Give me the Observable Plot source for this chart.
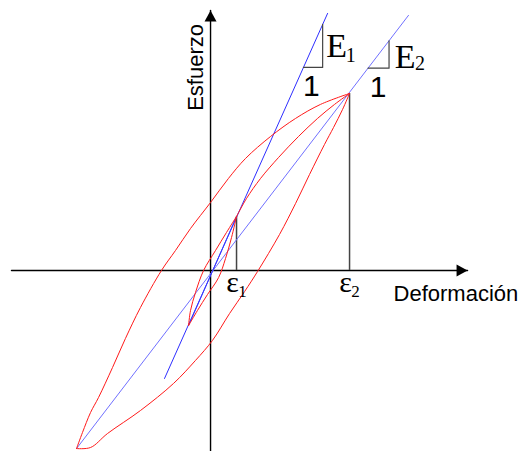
<!DOCTYPE html>
<html>
<head>
<meta charset="utf-8">
<script src="https://cdn.jsdelivr.net/npm/d3@7"></script>
<script src="https://cdn.jsdelivr.net/npm/@observablehq/plot@0.6"></script>
<style>
  html, body { margin: 0; padding: 0; background: #fff; }
</style>
</head>
<body>
<div id="chart"></div>
<script>
// Hysteresis loops: strain (x) vs stress (y), normalised to the large cycle peak.
const peak1 = [0.187, 0.305];      // ε1 peak of the small cycle
const trough1 = [-0.158, -0.311];  // reversal of the small cycle
const peak2 = [1.0, 1.0];          // ε2 peak of the large cycle
const trough2 = [-0.964, -1.006];  // reversal of the large cycle

// Large loop, unloading branch (peak2 -> trough2)
const outerUnload = [
  [1.000, 1.000], [0.791, 0.938], [0.612, 0.859], [0.432, 0.757], [0.252, 0.633],
  [0.129, 0.520], [0.000, 0.384], [-0.144, 0.237], [-0.252, 0.113], [-0.353, 0.000],
  [-0.504, -0.209], [-0.612, -0.384], [-0.705, -0.548], [-0.806, -0.718],
  [-0.863, -0.802], [-0.921, -0.915], [-0.964, -1.006]
];
// Large loop, reloading branch (trough2 -> peak2)
const outerReload = [
  [-0.964, -1.006], [-0.863, -1.000], [-0.741, -0.921], [-0.504, -0.791], [-0.266, -0.638],
  [-0.108, -0.508], [0.014, -0.395], [0.137, -0.243], [0.245, -0.119], [0.338, -0.006],
  [0.496, 0.203], [0.612, 0.379], [0.712, 0.542], [0.820, 0.712], [0.885, 0.808],
  [0.950, 0.910], [1.000, 1.000]
];
// Loading path from the small cycle up to the large peak
const loadPath = [
  [0.187, 0.305], [0.259, 0.407], [0.360, 0.520], [0.489, 0.638], [0.633, 0.757],
  [0.770, 0.859], [0.892, 0.938], [1.000, 1.000]
];
// Small loop branches
const innerUnload = [
  [0.187, 0.305], [0.115, 0.215], [0.036, 0.113], [-0.050, 0.000],
  [-0.108, -0.124], [-0.144, -0.226], [-0.158, -0.311]
];
const innerReload = [
  [-0.158, -0.311], [-0.094, -0.226], [-0.022, -0.136], [0.058, -0.040],
  [0.108, 0.068], [0.151, 0.186], [0.187, 0.305]
];

// Secant moduli lines
const lineE1 = [[-0.331, -0.610], [0.842, 1.452]];
const lineE2 = [[-0.964, -1.006], [1.424, 1.441]];
const secant1 = [trough1, peak1];

// Slope triangles: level of the horizontal leg and its run
const triE1 = { line: lineE1, y: 1.147, run: 0.138 };
const triE2 = { line: lineE2, y: 1.143, run: 0.151 };

// Axis extents
const xAxisExtent = [-1.432, 1.849];
const yAxisExtent = [-1.03, 1.469];

const strainTicks = [
  { x: peak1[0], name: "ε", sub: "1" },
  { x: peak2[0], name: "ε", sub: "2" }
];

function slopeTriangle(t) {
  const [[x0, y0], [x1, y1]] = t.line;
  const m = (y1 - y0) / (x1 - x0);
  const xa = x0 + (t.y - y0) / m;       // where the leg meets the line
  const xb = xa + t.run;                // right corner
  const yb = t.y + m * t.run;           // top of the vertical leg
  return [[xa, t.y], [xb, t.y], [xb, yb]];
}
const tri1 = slopeTriangle(triE1);
const tri2 = slopeTriangle(triE2);

// Filled arrowhead, tip at the symbol origin, pointing right
const arrowHead = {
  draw(context) {
    context.moveTo(0, 0);
    context.lineTo(-11, -6);
    context.lineTo(-11, 6);
    context.closePath();
  }
};

const red = "#ff1a1a";
const serif = "Liberation Serif, Times New Roman, serif";
const sans = "Liberation Sans, Arial, sans-serif";

const chart = Plot.plot({
  width: 526,
  height: 451,
  margin: 0,
  x: { domain: [-1.511, 2.273], axis: null },
  y: { domain: [-1.0226, 1.525], axis: null },
  style: { background: "#fff" },
  marks: [
    // axes
    Plot.line(xAxisExtent.map(x => [x, 0]), { stroke: "#000", strokeWidth: 1.4 }),
    Plot.line(yAxisExtent.map(y => [0, y]), { stroke: "#000", strokeWidth: 1.4 }),
    Plot.dot([[xAxisExtent[1], 0]], { symbol: arrowHead, fill: "#000", stroke: null, r: 1 }),
    Plot.dot([[0, yAxisExtent[1]]], { symbol: arrowHead, fill: "#000", stroke: null, r: 1, rotate: -90 }),
    // strain markers
    Plot.ruleX([peak1, peak2], { x: d => d[0], y1: 0, y2: d => d[1], stroke: "#444", strokeWidth: 1.5 }),
    // secant lines
    Plot.line(lineE1, { stroke: "#2e2eff", strokeWidth: 1 }),
    Plot.line(lineE2, { stroke: "#7070ff", strokeWidth: 1 }),
    Plot.line(secant1, { stroke: "#3a3aff", strokeWidth: 1 }),
    // hysteresis curves
    Plot.line(outerUnload, { curve: "catmull-rom", stroke: red, strokeWidth: 1 }),
    Plot.line(outerReload, { curve: "catmull-rom", stroke: red, strokeWidth: 1 }),
    Plot.line(loadPath, { curve: "catmull-rom", stroke: red, strokeWidth: 1 }),
    Plot.line(innerUnload, { curve: "catmull-rom", stroke: red, strokeWidth: 1 }),
    Plot.line(innerReload, { curve: "catmull-rom", stroke: red, strokeWidth: 1 }),
    // slope triangles
    Plot.line(tri1, { stroke: "#444", strokeWidth: 1.2 }),
    Plot.line(tri2, { stroke: "#444", strokeWidth: 1.2 }),
    Plot.text([tri1[1]], { text: ["E"], dx: 14, dy: -10, textAnchor: "middle", lineAnchor: "bottom", fontFamily: serif, fontSize: 34, fill: "#000" }),
    Plot.text([tri1[1]], { text: ["1"], dx: 28, dy: -5, textAnchor: "middle", lineAnchor: "bottom", fontFamily: serif, fontSize: 20, fill: "#000" }),
    Plot.text([tri2[1]], { text: ["E"], dx: 16, dy: 0, textAnchor: "middle", lineAnchor: "bottom", fontFamily: serif, fontSize: 34, fill: "#000" }),
    Plot.text([tri2[1]], { text: ["2"], dx: 31, dy: 2, textAnchor: "middle", lineAnchor: "bottom", fontFamily: serif, fontSize: 20, fill: "#000" }),
    Plot.text([tri1[0]], { text: ["1"], dx: 8, dy: 29, textAnchor: "middle", lineAnchor: "bottom", fontFamily: sans, fontSize: 30, fill: "#000" }),
    Plot.text([tri2[0]], { text: ["1"], dx: 10, dy: 29, textAnchor: "middle", lineAnchor: "bottom", fontFamily: sans, fontSize: 30, fill: "#000" }),
    // strain labels
    Plot.text(strainTicks, { x: "x", y: 0, text: "name", dx: -4, dy: 22, textAnchor: "middle", lineAnchor: "bottom", fontFamily: serif, fontSize: 30, fill: "#000" }),
    Plot.text(strainTicks, { x: "x", y: 0, text: "sub", dx: 6, dy: 27, textAnchor: "middle", lineAnchor: "bottom", fontFamily: serif, fontSize: 17, fill: "#000" }),
    // axis titles
    Plot.text(["Deformación"], { x: xAxisExtent[1], y: 0, dx: -74, dy: 31, textAnchor: "start", lineAnchor: "bottom", fontFamily: sans, fontSize: 22, fill: "#000" }),
    Plot.text(["Esfuerzo"], { x: 0, y: 1.147, dx: -15, rotate: -90, textAnchor: "middle", lineAnchor: "middle", fontFamily: sans, fontSize: 22, fill: "#000" })
  ]
});
document.getElementById("chart").appendChild(chart);
</script>
</body>
</html>
